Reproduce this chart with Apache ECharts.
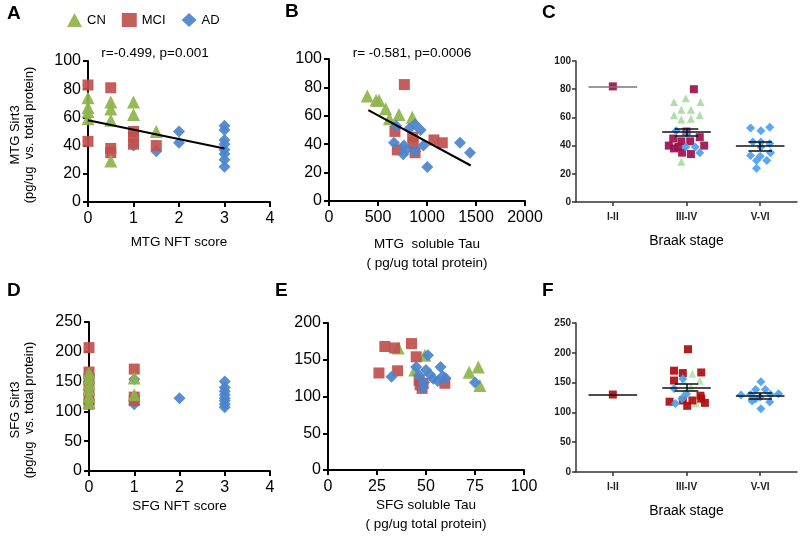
<!DOCTYPE html>
<html>
<head>
<meta charset="utf-8">
<script src="https://cdn.jsdelivr.net/npm/echarts@6/dist/echarts.min.js"></script>
<style>
  html, body { margin: 0; padding: 0; background: #fff; }
  #chart { width: 800px; height: 543px; }
</style>
</head>
<body>
<div id="chart"></div>
<script>
const FONT = 'Liberation Sans, Arial, sans-serif'

// A: MTG Sirt3 vs MTG NFT score
const nftCN_A = [[0, 74], [0, 67], [0, 64], [0, 59], [0.5, 71], [0.5, 66], [0.5, 58], [0.5, 29], [1, 71], [1, 62], [1.5, 50]]
const nftMCI_A = [[0, 83], [0, 43], [0.5, 81], [0.5, 38], [0.5, 35], [1, 50], [1, 46], [1, 41], [1.5, 40]]
const nftAD_A = [[1, 40], [1.5, 36], [2, 50], [2, 42], [3, 54], [3, 51], [3, 44], [3, 41], [3, 37], [3, 34], [3, 30], [3, 25]]
const fitA = [[0, 58], [3, 38]]

// B: MTG Sirt3 vs MTG soluble tau
const tauCN_B = [[391, 74], [480, 71], [510, 71], [578, 65], [616, 58], [714, 61], [850, 59]]
const tauMCI_B = [[769, 82], [673, 49], [697, 36], [854, 45], [860, 41], [878, 34], [1071, 43], [1156, 41]]
const tauAD_B = [[684, 53], [663, 41], [765, 39], [758, 33], [786, 36], [820, 51], [878, 54], [935, 50], [963, 39], [878, 35], [1003, 24], [1337, 41], [1439, 34]]
const fitB = [[401, 64], [1446, 25]]

// C: MTG Sirt3 by Braak stage (x = stage index + jitter)
const braakStages = ['I-II', 'III-IV', 'V-VI']
const braakCN_C = [[0.83, 71], [0.99, 73.5], [1.19, 71], [0.93, 65.5], [1.06, 65.5], [0.83, 61.5], [1.18, 61.5], [0.93, 58.5], [1.06, 59], [0.93, 28.5]]
const braakMCI_C = [[0, 82], [1.1, 80], [0.82, 45], [0.76, 40], [0.83, 38], [0.89, 39], [0.93, 43], [0.94, 35], [1.06, 34], [1.05, 43], [1.18, 46], [1.24, 40], [1.0, 50]]
const braakAD_C = [[0.86, 50.5], [1.0, 49], [1.12, 39], [0.99, 39], [1.18, 35], [1.87, 52.5], [2.01, 50.5], [2.13, 53], [1.9, 42.5], [2.01, 42.5], [2.13, 41.5], [1.87, 33], [2.0, 32.5], [2.09, 29.5], [1.95, 29.5], [2.14, 35], [1.95, 24], [2.01, 39]]
const meanC = [82, 49.5, 39.6]
const semC = [0, 2.8, 3.0]
const starC = [[2, 57]]

// D: SFG Sirt3 vs SFG NFT score
const nftCN_D = [[0, 165], [0, 156], [0, 147], [0, 137], [0, 125], [0, 115], [1, 156], [1, 128]]
const nftMCI_D = [[0, 207], [0, 166], [0, 155], [0, 140], [0, 120], [0, 112], [1, 171], [1, 124], [1, 118]]
const nftAD_D = [[0, 150], [0, 130], [1, 154], [1, 112], [2, 122], [3, 150], [3, 140], [3, 134], [3, 128], [3, 122], [3, 118], [3, 112], [3, 107]]

// E: SFG Sirt3 vs SFG soluble tau
const tauCN_E = [[35.8, 166], [49.4, 156], [44.3, 136], [72, 133], [76.7, 140], [77.5, 115]]
const tauMCI_E = [[26, 132], [29, 168], [34, 166], [35.5, 135], [42.6, 172], [45, 154], [46.5, 122], [47, 116], [48.5, 118], [48, 111], [59.6, 118]]
const tauAD_E = [[32.4, 127], [51, 156], [45, 140], [46.5, 129], [48.5, 112], [50, 136], [52, 130], [53.7, 124], [56, 121], [57.4, 140], [58.5, 128], [60, 125], [75, 119], [49, 119]]

// F: SFG Sirt3 by Braak stage
const braakCN_F = [[0.96, 153], [1.08, 165], [1.18, 153], [0.95, 131], [1.06, 142], [1.13, 115]]
const braakMCI_F = [[0, 130], [1.02, 206], [0.83, 170], [0.95, 166], [1.2, 167], [0.83, 153.5], [0.77, 118], [0.95, 120], [1.01, 111], [1.08, 120], [1.19, 128], [1.2, 123], [1.25, 116]]
const braakAD_F = [[0.95, 156.5], [0.83, 140], [0.85, 115], [0.94, 123], [1.0, 131], [2.01, 151.5], [1.94, 138.5], [2.07, 138.5], [1.87, 130], [2.14, 130], [1.89, 119], [2.13, 117.5], [1.94, 123], [2.01, 106], [2.25, 131.5], [2.0, 126], [1.74, 129]]
const meanF = [130, 142, 128]
const semF = [0, 5.5, 4.3]

const COL = { CN: '#8db44a', MCI: '#c0504d', AD: '#4a84cc' }
const COL_C = { CN: '#a9dba1', MCI: '#9e0f4f', AD: '#4d9ff0' }
const COL_F = { CN: '#b4e4ac', MCI: '#b00c0c', AD: '#4aa0f0' }
const SYM = { CN: 'triangle', MCI: 'rect', AD: 'diamond' }

const valAxis = (gridIndex, min, max, interval, isY, extra = {}) => ({
  type: 'value', gridIndex, min, max, interval,
  splitLine: { show: false },
  axisLine: { show: true, onZero: false, lineStyle: { color: '#000', width: 2 } },
  axisTick: { show: true, length: 5, lineStyle: { color: '#000', width: 2 } },
  axisLabel: { color: '#000', fontSize: 16, fontFamily: FONT, margin: isY ? 7 : 9, formatter: v => String(v) },
  nameTextStyle: { color: '#000', fontSize: 13.5, fontFamily: FONT, lineHeight: 19 },
  ...extra
})

const stageAxis = (gridIndex, min, max, interval) => ({
  type: 'value', gridIndex, min, max, interval,
  splitLine: { show: false },
  axisLine: { show: true, onZero: false, lineStyle: { color: '#333', width: 1.5 } },
  axisTick: { show: true, length: 4, lineStyle: { color: '#333', width: 1.5 } },
  axisLabel: { color: '#222', fontSize: 10, fontWeight: 'bold', fontFamily: FONT, margin: 5 }
})

const catAxis = (gridIndex) => ({
  type: 'category', gridIndex, data: braakStages, boundaryGap: true,
  axisLine: { show: true, onZero: false, lineStyle: { color: '#333', width: 1.5 } },
  axisTick: { show: true, alignWithLabel: true, length: 4, lineStyle: { color: '#333', width: 1.5 } },
  axisLabel: { color: '#222', fontSize: 10, fontWeight: 'bold', fontFamily: FONT, margin: 10 },
  name: 'Braak stage', nameLocation: 'middle', nameGap: 32,
  nameTextStyle: { color: '#000', fontSize: 14, fontFamily: FONT }
})

const hiddenX = (gridIndex) => ({ type: 'value', gridIndex, min: -0.5, max: 2.5, show: false })

const pts = (name, data, xi, yi, colors, size, z) => ({
  name, type: 'scatter', data, xAxisIndex: xi, yAxisIndex: yi,
  symbol: SYM[name], symbolSize: size[name], z,
  itemStyle: { color: colors[name], opacity: 0.92 }
})

const fit = (data, xi, yi) => ({
  type: 'line', data, xAxisIndex: xi, yAxisIndex: yi, symbol: 'none', z: 5,
  lineStyle: { color: '#000', width: 2 }
})

const errBars = (means, sems, firstColor) => {
  const d = []
  means.forEach((m, i) => {
    d.push([{ coord: [i - 0.33, m], lineStyle: i === 0 ? { color: firstColor } : undefined }, { coord: [i + 0.33, m] }])
    if (sems[i] > 0) {
      d.push([{ coord: [i, m - sems[i]] }, { coord: [i, m + sems[i]] }])
      d.push([{ coord: [i - 0.16, m + sems[i]] }, { coord: [i + 0.16, m + sems[i]] }])
      d.push([{ coord: [i - 0.16, m - sems[i]] }, { coord: [i + 0.16, m - sems[i]] }])
    }
  })
  return d
}

const bars = (means, sems, xi, yi, firstColor) => ({
  type: 'scatter', data: [], xAxisIndex: xi, yAxisIndex: yi, z: 6,
  markLine: {
    silent: true, symbol: 'none', animation: false, label: { show: false },
    lineStyle: { color: '#111', width: 1.5, type: 'solid' },
    data: errBars(means, sems, firstColor)
  }
})

const big = { CN: 13, MCI: 11, AD: 12 }
const small = { CN: 8, MCI: 8, AD: 9 }

const txt = (text, x, y, opts = {}) => ({
  type: 'text', x, y, rotation: opts.rot || 0,
  style: {
    text, fill: '#000', fontFamily: FONT, fontSize: opts.size || 13,
    fontWeight: opts.bold ? 'bold' : 'normal',
    align: opts.align || 'center', verticalAlign: 'middle'
  }
})

const option = {
  animation: false,
  backgroundColor: '#fff',
  legend: {
    left: 62, top: 8, itemWidth: 15, itemHeight: 14, itemGap: 16,
    textStyle: { color: '#000', fontSize: 13, fontFamily: FONT },
    data: [{ name: 'CN', icon: 'triangle' }, { name: 'MCI', icon: 'rect' }, { name: 'AD', icon: 'diamond' }]
  },
  grid: [
    { left: 88, top: 61, width: 182, height: 141 },
    { left: 329, top: 59, width: 196, height: 142 },
    { left: 576, top: 61, width: 221, height: 141 },
    { left: 89, top: 322, width: 181, height: 149 },
    { left: 328, top: 323, width: 196, height: 147 },
    { left: 576, top: 323, width: 221, height: 149 }
  ],
  xAxis: [
    valAxis(0, 0, 4, 1, false, { name: 'MTG NFT score', nameLocation: 'middle', nameGap: 31 }),
    valAxis(1, 0, 2000, 500, false, { name: 'MTG  soluble Tau\n( pg/ug total protein)', nameLocation: 'middle', nameGap: 34 }),
    catAxis(2),
    hiddenX(2),
    valAxis(3, 0, 4, 1, false, { name: 'SFG NFT score', nameLocation: 'middle', nameGap: 25 }),
    valAxis(4, 0, 100, 25, false, { name: 'SFG soluble Tau\n( pg/ug total protein)', nameLocation: 'middle', nameGap: 25 }),
    catAxis(5),
    hiddenX(5)
  ],
  yAxis: [
    valAxis(0, 0, 100, 20, true),
    valAxis(1, 0, 100, 20, true),
    stageAxis(2, 0, 100, 20),
    valAxis(3, 0, 250, 50, true),
    valAxis(4, 0, 200, 50, true),
    stageAxis(5, 0, 250, 50)
  ],
  series: [
    pts('AD', nftAD_A, 0, 0, COL, big, 2),
    pts('MCI', nftMCI_A, 0, 0, COL, big, 3),
    pts('CN', nftCN_A, 0, 0, COL, big, 4),
    fit(fitA, 0, 0),

    pts('CN', tauCN_B, 1, 1, COL, big, 2),
    pts('MCI', tauMCI_B, 1, 1, COL, big, 3),
    pts('AD', tauAD_B, 1, 1, COL, big, 4),
    fit(fitB, 1, 1),

    pts('CN', braakCN_C, 3, 2, COL_C, small, 2),
    pts('MCI', braakMCI_C, 3, 2, COL_C, small, 3),
    pts('AD', braakAD_C, 3, 2, COL_C, small, 4),
    bars(meanC, semC, 3, 2, '#777'),
    {
      type: 'scatter', data: starC, xAxisIndex: 3, yAxisIndex: 2, symbolSize: 1,
      itemStyle: { opacity: 0 },
      label: { show: true, position: 'inside', formatter: '*', fontSize: 22, fontWeight: 'bold', color: '#000', fontFamily: FONT }
    },

    pts('AD', nftAD_D, 4, 3, COL, big, 2),
    pts('MCI', nftMCI_D, 4, 3, COL, big, 3),
    pts('CN', nftCN_D, 4, 3, COL, big, 4),

    pts('CN', tauCN_E, 5, 4, COL, big, 2),
    pts('MCI', tauMCI_E, 5, 4, COL, big, 3),
    pts('AD', tauAD_E, 5, 4, COL, big, 4),

    pts('CN', braakCN_F, 7, 5, COL_F, small, 2),
    pts('MCI', braakMCI_F, 7, 5, COL_F, small, 3),
    pts('AD', braakAD_F, 7, 5, COL_F, small, 4),
    bars(meanF, semF, 7, 5, '#111')
  ],
  graphic: [
    txt('A', 7, 14, { size: 19, bold: true, align: 'left' }),
    txt('B', 285, 12, { size: 19, bold: true, align: 'left' }),
    txt('C', 542, 13, { size: 19, bold: true, align: 'left' }),
    txt('D', 7, 291, { size: 19, bold: true, align: 'left' }),
    txt('E', 275, 291, { size: 19, bold: true, align: 'left' }),
    txt('F', 542, 291, { size: 19, bold: true, align: 'left' }),
    txt('r=-0.499, p=0.001', 155, 53, { size: 13.5 }),
    txt('r= -0.581, p=0.0006', 412, 53, { size: 13.5 }),
    txt('MTG Sirt3', 15, 135, { size: 13, rot: Math.PI / 2 }),
    txt('(pg/ug  vs. total protein)', 29, 135, { size: 13, rot: Math.PI / 2 }),
    txt('SFG Sirt3', 15, 410, { size: 13, rot: Math.PI / 2 }),
    txt('(pg/ug  vs. total protein)', 29, 410, { size: 13, rot: Math.PI / 2 })
  ]
}

const chart = echarts.init(document.getElementById('chart'), null, { renderer: 'canvas' })
chart.setOption(option)
</script>
</body>
</html>
